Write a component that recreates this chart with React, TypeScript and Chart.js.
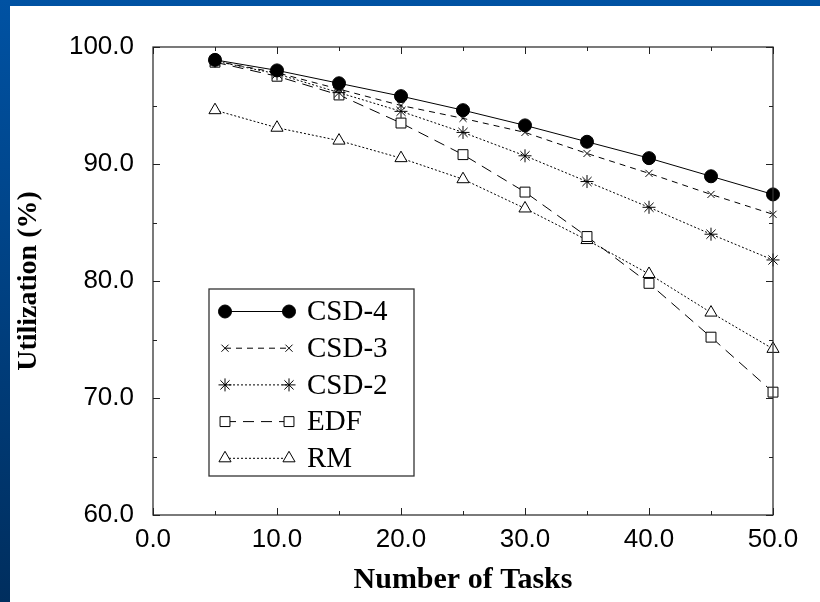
import React, { useEffect, useRef } from "react";
import { Chart, registerables } from "chart.js";
import { drawPoint } from "chart.js/helpers";

Chart.register(...registerables);

const tasks = [5, 10, 15, 20, 25, 30, 35, 40, 45, 50];
const csd4 = [98.9, 98.0, 96.9, 95.8, 94.6, 93.3, 91.9, 90.5, 88.95, 87.4];
const csd3 = [98.8, 97.8, 96.4, 95.0, 93.9, 92.7, 90.9, 89.2, 87.4, 85.7];
const csd2 = [98.8, 97.7, 96.1, 94.5, 92.7, 90.7, 88.5, 86.3, 84.0, 81.8];
const edf = [98.7, 97.5, 95.9, 93.5, 90.8, 87.6, 83.8, 79.8, 75.2, 70.5];
const rm = [94.6, 93.1, 92.0, 90.5, 88.7, 86.2, 83.5, 80.6, 77.3, 74.2];

const seriesNames = ["CSD-4", "CSD-3", "CSD-2", "EDF", "RM"];
const xTitle = "Number of Tasks";
const yTitle = "Utilization (%)";

const pts = (arr: number[]) => tasks.map((t, i) => ({ x: t, y: arr[i] }));

const frameAndTicks = {
  id: "frameAndTicks",
  afterDatasetsDraw(chart: any) {
    const { ctx, chartArea: a, scales } = chart;
    const xs = scales.x;
    const ys = scales.y;
    ctx.save();
    ctx.strokeStyle = "#333";
    ctx.lineWidth = 1.3;
    ctx.strokeRect(a.left, a.top, a.right - a.left, a.bottom - a.top);
    ctx.lineWidth = 1;
    ctx.strokeStyle = "#222";
    ctx.beginPath();
    for (let v = 0; v <= 50; v += 5) {
      const px = Math.round(xs.getPixelForValue(v)) + 0.5;
      const len = v % 10 === 0 ? 7 : 4;
      ctx.moveTo(px, a.bottom);
      ctx.lineTo(px, a.bottom - len);
      ctx.moveTo(px, a.top);
      ctx.lineTo(px, a.top + len);
    }
    for (let v = 60; v <= 100; v += 5) {
      const py = Math.round(ys.getPixelForValue(v)) + 0.5;
      const len = v % 10 === 0 ? 7 : 4;
      ctx.moveTo(a.left, py);
      ctx.lineTo(a.left + len, py);
      ctx.moveTo(a.right, py);
      ctx.lineTo(a.right - len, py);
    }
    ctx.stroke();
    ctx.restore();
  },
};

const boxLegend = {
  id: "boxLegend",
  afterDraw(chart: any) {
    const { ctx } = chart;
    const bx = 199, by = 283, bw = 205, bh = 187;
    ctx.save();
    ctx.fillStyle = "#fff";
    ctx.fillRect(bx, by, bw, bh);
    ctx.strokeStyle = "#333";
    ctx.lineWidth = 1.3;
    ctx.strokeRect(bx, by, bw, bh);
    const x0 = 215, x1 = 279, tx = 297;
    chart.data.datasets.forEach((ds: any, i: number) => {
      const y = 305.5 + i * 36.7;
      ctx.strokeStyle = "#000";
      ctx.lineWidth = ds.borderWidth;
      ctx.setLineDash(ds.borderDash || []);
      ctx.beginPath();
      ctx.moveTo(x0, y);
      ctx.lineTo(x1, y);
      ctx.stroke();
      ctx.setLineDash([]);
      const opts = {
        pointStyle: ds.pointStyle,
        radius: ds.pointRadius,
        rotation: 0,
        borderWidth: 1,
      };
      ctx.fillStyle = ds.pointBackgroundColor;
      ctx.strokeStyle = "#000";
      ctx.lineWidth = 1;
      drawPoint(ctx, opts, x0, y);
      drawPoint(ctx, opts, x1, y);
      ctx.fillStyle = "#000";
      ctx.font = "29px 'Liberation Serif', serif";
      ctx.textBaseline = "middle";
      ctx.textAlign = "left";
      ctx.fillText(ds.label, tx, y + 1);
    });
    ctx.restore();
  },
};

export default function App() {
  const ref = useRef<HTMLCanvasElement>(null);
  useEffect(() => {
    const mk = (
      label: string,
      arr: number[],
      dash: number[],
      style: string,
      r: number,
      fill: string
    ) => ({
      label,
      data: pts(arr),
      borderColor: "#000",
      borderWidth: 1,
      borderDash: dash,
      pointStyle: style,
      pointRadius: r,
      pointBackgroundColor: fill,
      pointBorderColor: "#000",
      pointBorderWidth: 1,
      fill: false,
      tension: 0,
      clip: false,
    });
    const chart = new Chart(ref.current as HTMLCanvasElement, {
      type: "line",
      data: {
        datasets: [
          mk(seriesNames[0], csd4, [], "circle", 6.5, "#000"),
          mk(seriesNames[1], csd3, [6, 5], "crossRot", 5, "#fff"),
          mk(seriesNames[2], csd2, [2, 2], "star", 6.5, "#fff"),
          mk(seriesNames[3], edf, [11, 7], "rect", 7, "#fff"),
          mk(seriesNames[4], rm, [2, 2], "triangle", 7, "#fff"),
        ] as any,
      },
      options: {
        animation: false,
        responsive: false,
        devicePixelRatio: 1,
        layout: { padding: { left: 0, right: 47, top: 41, bottom: 0 } },
        plugins: {
          legend: { display: false },
          tooltip: { enabled: false },
        },
        scales: {
          x: {
            type: "linear",
            min: 0,
            max: 50,
            ticks: {
              stepSize: 10,
              padding: 1,
              color: "#000",
              font: { family: "'Liberation Sans', Arial, sans-serif", size: 26 },
              callback: (v: any) => Number(v).toFixed(1),
              maxRotation: 0,
            },
            grid: { display: false },
            border: { display: false },
            title: {
              display: true,
              text: xTitle,
              color: "#000",
              font: { family: "'Liberation Serif', serif", size: 30, weight: "bold" },
              padding: { top: 0, bottom: 4 },
            },
            afterFit: (s: any) => {
              s.height = 87;
            },
          },
          y: {
            type: "linear",
            min: 60,
            max: 100,
            ticks: {
              stepSize: 10,
              padding: 11,
              color: "#000",
              font: { family: "'Liberation Sans', Arial, sans-serif", size: 26 },
              callback: (v: any) => Number(v).toFixed(1),
            },
            grid: { display: false },
            border: { display: false },
            title: {
              display: true,
              text: yTitle,
              color: "#000",
              font: { family: "'Liberation Serif', serif", size: 28, weight: "bold" },
              padding: { top: 2, bottom: 0 },
            },
            afterFit: (s: any) => {
              s.width = 143;
            },
          },
        },
      },
      plugins: [frameAndTicks, boxLegend],
    } as any);
    return () => chart.destroy();
  }, []);
  return (
    <div
      style={{
        position: "fixed",
        left: 0,
        top: 0,
        width: 820,
        height: 602,
        background: "linear-gradient(#0052a3, #002e5e)",
      }}
    >
      <div
        style={{
          position: "absolute",
          left: 10,
          top: 6,
          width: 810,
          height: 596,
          background: "#fff",
        }}
      >
        <canvas ref={ref} width={810} height={596} style={{ display: "block" }} />
      </div>
    </div>
  );
}
